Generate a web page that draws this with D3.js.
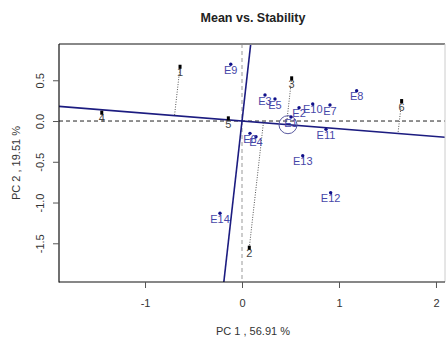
<!DOCTYPE html>
<html>
<head>
<meta charset="utf-8">
<script src="https://cdn.jsdelivr.net/npm/d3@7"></script>
<style>
  body { margin: 0; background: #fff; }
  text { font-family: "Liberation Sans", Arial, sans-serif; }
</style>
</head>
<body>
<div id="chart"></div>
<script>
// environments (black) and genotypes (blue), PC1 / PC2 scores
var envNames = ['1', '2', '3', '4', '5', '6']
var envPC1 = [-0.639, 0.075, 0.512, -1.446, -0.141, 1.646]
var envPC2 = [0.666, -1.554, 0.524, 0.102, 0.033, 0.245]

var genNames = ['E1', 'E2', 'E3', 'E4', 'E5', 'E6', 'E7', 'E8', 'E9', 'E10', 'E11', 'E12', 'E13', 'E14']
var genPC1 = [0.505, 0.588, 0.237, 0.144, 0.340, 0.082, 0.907, 1.182, -0.116, 0.729, 0.866, 0.914, 0.626, -0.227]
var genPC2 = [0.049, 0.163, 0.319, -0.193, 0.270, -0.151, 0.196, 0.372, 0.696, 0.209, -0.102, -0.880, -0.426, -1.131]

// average environment coordinate
var avgEnv = [0.474, -0.045]

var xTicks = [-1, 0, 1, 2]
var yTicks = [-1.5, -1.0, -0.5, 0.0, 0.5]

var W = 446
var H = 340
var pLeft = 59, pRight = 445, pTop = 44, pBottom = 282

var svg = d3.select('#chart')
  .append('svg')
  .attr('width', W)
  .attr('height', H)

var x = d3.scaleLinear().domain([-1.887, 2.093]).range([pLeft, pRight])
var y = d3.scaleLinear().domain([-1.975, 0.945]).range([pBottom, pTop])

svg.append('defs').append('clipPath').attr('id', 'clip')
  .append('rect')
  .attr('x', pLeft).attr('y', pTop)
  .attr('width', pRight - pLeft).attr('height', pBottom - pTop)

// title
svg.append('text')
  .attr('x', 253).attr('y', 22)
  .attr('text-anchor', 'middle')
  .attr('font-size', 12.5)
  .attr('font-weight', 'bold')
  .attr('fill', '#222')
  .text('Mean vs. Stability')

var plot = svg.append('g').attr('clip-path', 'url(#clip)')

// reference dashed lines through origin
plot.append('line')
  .attr('x1', pLeft).attr('x2', pRight)
  .attr('y1', y(0)).attr('y2', y(0))
  .attr('stroke', '#222').attr('stroke-width', 1)
  .attr('stroke-dasharray', '4,3')
plot.append('line')
  .attr('x1', x(0)).attr('x2', x(0))
  .attr('y1', pTop).attr('y2', pBottom)
  .attr('stroke', '#999').attr('stroke-width', 1)
  .attr('stroke-dasharray', '4,3')

// AEC axes
var len = Math.hypot(avgEnv[0], avgEnv[1])
var ux = avgEnv[0] / len
var uy = avgEnv[1] / len
plot.append('line')
  .attr('x1', x(-10 * ux)).attr('y1', y(-10 * uy))
  .attr('x2', x(10 * ux)).attr('y2', y(10 * uy))
  .attr('stroke', '#1c1c80').attr('stroke-width', 1.6)
plot.append('line')
  .attr('x1', x(10 * uy)).attr('y1', y(-10 * ux))
  .attr('x2', x(-10 * uy)).attr('y2', y(10 * ux))
  .attr('stroke', '#1c1c80').attr('stroke-width', 1.6)

// projections of environments onto AEC abscissa
envNames.forEach(function (n, i) {
  var dot = envPC1[i] * ux + envPC2[i] * uy
  plot.append('line')
    .attr('x1', x(envPC1[i])).attr('y1', y(envPC2[i]))
    .attr('x2', x(dot * ux)).attr('y2', y(dot * uy))
    .attr('stroke', '#555').attr('stroke-width', 1)
    .attr('stroke-dasharray', '1,1.5')
})

// average environment circle
plot.append('circle')
  .attr('cx', x(avgEnv[0])).attr('cy', y(avgEnv[1]))
  .attr('r', 9)
  .attr('fill', 'none')
  .attr('stroke', '#5a5aa0').attr('stroke-width', 1)

// genotypes
genNames.forEach(function (n, i) {
  plot.append('text')
    .attr('x', x(genPC1[i])).attr('y', y(genPC2[i]) + 5.5)
    .attr('text-anchor', 'middle')
    .attr('dominant-baseline', 'central')
    .attr('font-size', 11)
    .attr('fill', '#4646a8')
    .text(n)
  plot.append('circle')
    .attr('cx', x(genPC1[i])).attr('cy', y(genPC2[i]))
    .attr('r', 1.7)
    .attr('fill', '#10108a')
})

// environments
envNames.forEach(function (n, i) {
  plot.append('text')
    .attr('x', x(envPC1[i])).attr('y', y(envPC2[i]) + 5.5)
    .attr('text-anchor', 'middle')
    .attr('dominant-baseline', 'central')
    .attr('font-size', 11)
    .attr('fill', '#444')
    .text(n)
  plot.append('rect')
    .attr('x', x(envPC1[i]) - 1.5).attr('y', y(envPC2[i]) - 2)
    .attr('width', 3).attr('height', 4)
    .attr('fill', '#000')
})

// frame
svg.append('line').attr('x1', pLeft).attr('x2', pRight).attr('y1', pTop).attr('y2', pTop)
  .attr('stroke', '#888').attr('stroke-width', 2)
svg.append('line').attr('x1', pRight).attr('x2', pRight).attr('y1', pTop).attr('y2', pBottom)
  .attr('stroke', '#ccc').attr('stroke-width', 1)
svg.append('line').attr('x1', pLeft).attr('x2', pLeft).attr('y1', pTop).attr('y2', pBottom + 0.5)
  .attr('stroke', '#111').attr('stroke-width', 1.2)
svg.append('line').attr('x1', pLeft).attr('x2', pRight).attr('y1', pBottom).attr('y2', pBottom)
  .attr('stroke', '#111').attr('stroke-width', 1.2)

// axes
var xAxis = svg.append('g')
  .attr('transform', 'translate(0,' + pBottom + ')')
  .call(d3.axisBottom(x).tickValues(xTicks).tickSize(6).tickPadding(11).tickFormat(function (d) { return String(d) }))
xAxis.select('.domain').remove()
xAxis.selectAll('line').attr('stroke', '#555')
xAxis.selectAll('text').attr('font-size', 11).attr('fill', '#333')
  .style('font-family', '"Liberation Sans", Arial, sans-serif')

var yAxis = svg.append('g')
  .attr('transform', 'translate(' + pLeft + ',0)')
  .call(d3.axisLeft(y).tickValues(yTicks).tickSize(6).tickFormat(function (d) { return d.toFixed(1) }))
yAxis.select('.domain').remove()
yAxis.selectAll('line').attr('stroke', '#555')
yAxis.selectAll('text')
  .attr('x', null).attr('dy', null)
  .attr('text-anchor', 'middle')
  .attr('transform', 'translate(-15.5,0) rotate(-90)')
  .attr('font-size', 11).attr('fill', '#333')
  .style('font-family', '"Liberation Sans", Arial, sans-serif')

// axis titles
svg.append('text')
  .attr('x', 253).attr('y', 335)
  .attr('text-anchor', 'middle')
  .attr('font-size', 11).attr('fill', '#333')
  .text('PC 1 , 56.91 %')
svg.append('text')
  .attr('transform', 'translate(20,' + ((pTop + pBottom) / 2) + ') rotate(-90)')
  .attr('text-anchor', 'middle')
  .attr('font-size', 11).attr('fill', '#333')
  .text('PC 2 , 19.51 %')
</script>
</body>
</html>
